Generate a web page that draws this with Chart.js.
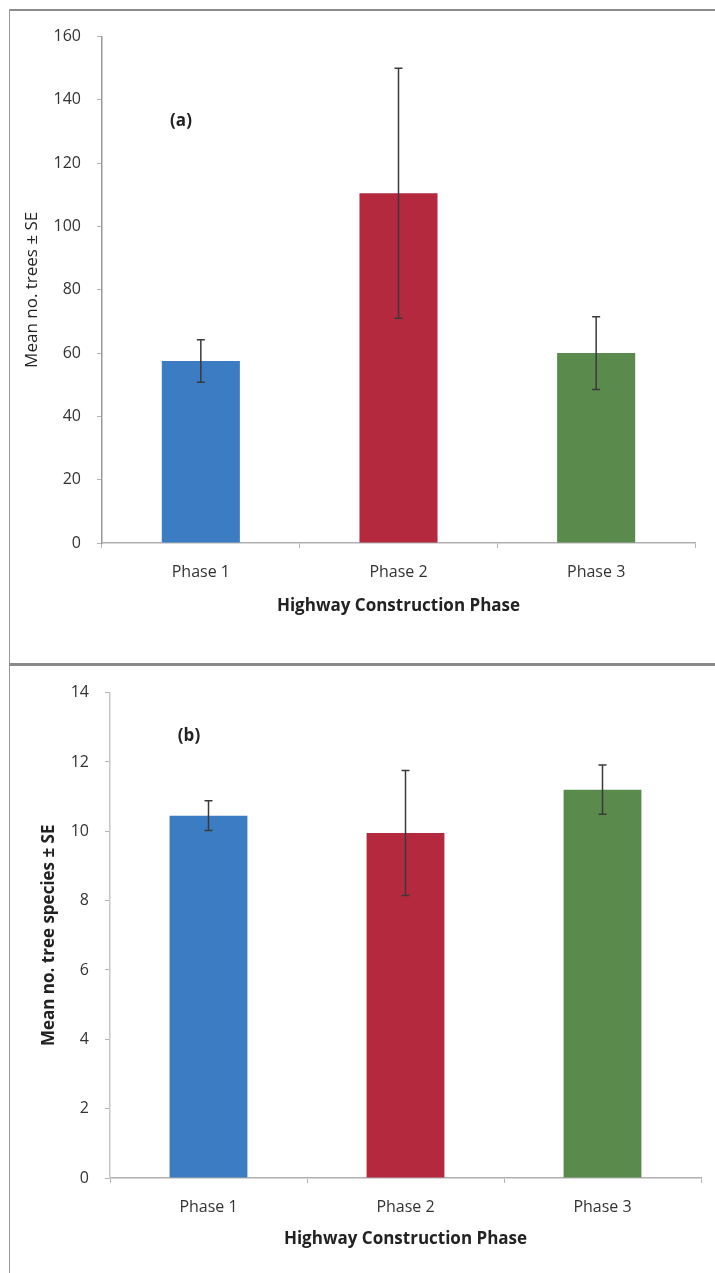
<!DOCTYPE html>
<html lang="en">
<head>
    <meta charset="UTF-8">
    <title>Trees by Highway Construction Phase</title>
    <script src="https://cdn.jsdelivr.net/npm/chart.js@4.4.1/dist/chart.umd.min.js"></script>
    <style>
        body {
            margin: 0;
            background: #fff;
            font-family: "Open Sans", sans-serif;
        }
        .page {
            position: relative;
            width: 715px;
            height: 1273px;
            overflow: hidden;
        }
        .frame-top {
            position: absolute;
            left: 9px; top: 9px;
            width: 706px; height: 0;
            border-top: 2px solid #8c8c8c;
        }
        .frame-left {
            position: absolute;
            left: 9px; top: 9px;
            width: 0; height: 1264px;
            border-left: 1px solid #9a9a9a;
        }
        .frame-mid {
            position: absolute;
            left: 9px; top: 663px;
            width: 706px; height: 0;
            border-top: 3px solid #8a8a8a;
        }
        .panel {
            position: absolute;
            left: 10px;
            width: 705px;
        }
        #panelA { top: 11px; height: 652px; }
        #panelB { top: 667px; height: 606px; }
    </style>
</head>
<body>
<div class="page">
    <div class="frame-top"></div>
    <div class="frame-left"></div>
    <div class="frame-mid"></div>
    <div class="panel" id="panelA"><canvas id="chartA"></canvas></div>
    <div class="panel" id="panelB"><canvas id="chartB"></canvas></div>
</div>

<script>
    // categories shared by both panels
    var phases = ['Phase 1', 'Phase 2', 'Phase 3'];
    var barColors = ['#3c7cc2', '#b5293f', '#5a8a4c'];

    // (a) mean number of trees and standard error
    var treesMean = [57.5, 110.5, 60];
    var treesSE = [6.7, 39.5, 11.5];
    var treesTicks = [0, 20, 40, 60, 80, 100, 120, 140, 160];

    // (b) mean number of tree species and standard error
    var speciesMean = [10.45, 9.95, 11.2];
    var speciesSE = [0.43, 1.8, 0.71];
    var speciesTicks = [0, 2, 4, 6, 8, 10, 12, 14];

    // draws the ± SE whiskers using the chart's own scales
    var errorBars = {
        id: 'errorBars',
        afterDatasetsDraw: function(chart, args, opts) {
            var ctx = chart.ctx;
            var yScale = chart.scales.y;
            var meta = chart.getDatasetMeta(0);
            var means = chart.data.datasets[0].data;
            ctx.save();
            ctx.strokeStyle = opts.color || '#444';
            ctx.lineWidth = 1.5;
            meta.data.forEach(function(bar, i) {
                var hi = yScale.getPixelForValue(means[i] + opts.se[i]);
                var lo = yScale.getPixelForValue(means[i] - opts.se[i]);
                ctx.beginPath();
                ctx.moveTo(bar.x, hi);
                ctx.lineTo(bar.x, lo);
                ctx.moveTo(bar.x - 4, hi);
                ctx.lineTo(bar.x + 4, hi);
                ctx.moveTo(bar.x - 4, lo);
                ctx.lineTo(bar.x + 4, lo);
                ctx.stroke();
            });
            ctx.restore();
        }
    };

    // "(a)" / "(b)" panel letters, placed from the chart area
    var panelLetter = {
        id: 'panelLetter',
        afterDraw: function(chart, args, opts) {
            var ctx = chart.ctx;
            ctx.save();
            ctx.font = 'bold 17px "Open Sans"';
            ctx.fillStyle = '#222';
            ctx.textAlign = 'center';
            ctx.textBaseline = 'middle';
            ctx.fillText(opts.text, chart.chartArea.left + opts.dx, chart.chartArea.top + opts.dy);
            ctx.restore();
        }
    };

    function makeChart(id, means, se, ticks, cfg) {
        return new Chart(document.getElementById(id), {
            type: 'bar',
            data: {
                labels: phases,
                datasets: [{
                    data: means,
                    backgroundColor: barColors,
                    borderWidth: 0,
                    categoryPercentage: 1,
                    barPercentage: 0.395
                }]
            },
            options: {
                responsive: true,
                maintainAspectRatio: false,
                animation: false,
                layout: { padding: { top: cfg.padTop, right: cfg.padRight, left: 0, bottom: 0 } },
                plugins: {
                    legend: { display: false },
                    tooltip: { enabled: false },
                    errorBars: { se: se, color: '#3a3a3a' },
                    panelLetter: cfg.letter
                },
                scales: {
                    x: {
                        afterFit: function(s) { s.height = cfg.xHeight; },
                        grid: { drawOnChartArea: false, drawTicks: true, tickLength: 5, offset: true, color: '#b5b5b5' },
                        border: { color: '#b0b0b0', width: 1.5 },
                        ticks: { color: '#333', padding: 15, font: { family: 'Open Sans', size: 16 } },
                        title: {
                            display: true,
                            text: 'Highway Construction Phase',
                            color: '#222',
                            font: { family: 'Open Sans', size: 17, weight: 'bold' },
                            padding: { top: 0, bottom: cfg.xTitlePad }
                        }
                    },
                    y: {
                        min: ticks[0],
                        max: ticks[ticks.length - 1],
                        afterFit: function(s) { s.width = cfg.yWidth; },
                        afterBuildTicks: function(s) {
                            s.ticks = ticks.map(function(v) { return { value: v }; });
                        },
                        grid: { drawOnChartArea: false, drawTicks: true, tickLength: 5, color: '#b5b5b5' },
                        border: { color: cfg.yAxisColor, width: 1.5 },
                        ticks: { color: '#333', padding: 16, font: { family: 'Open Sans', size: 16 } },
                        title: {
                            display: true,
                            text: cfg.yTitle,
                            color: '#222',
                            font: { family: 'Open Sans', size: 17, weight: cfg.yTitleWeight },
                            padding: { top: cfg.yTitlePad, bottom: 0 }
                        }
                    }
                }
            },
            plugins: [errorBars, panelLetter]
        });
    }

    makeChart('chartA', treesMean, treesSE, treesTicks, {
        padTop: 18, padRight: 20, xHeight: 120, yWidth: 92,
        xTitlePad: 47, yTitlePad: 12, yAxisColor: '#999',
        yTitle: 'Mean no. trees \u00b1 SE', yTitleWeight: 'normal',
        letter: { text: '(a)', dx: 79, dy: 85 }
    });

    makeChart('chartB', speciesMean, speciesSE, speciesTicks, {
        padTop: 21, padRight: 14, xHeight: 95, yWidth: 100,
        xTitlePad: 24, yTitlePad: 29, yAxisColor: '#c8c8c8',
        yTitle: 'Mean no. tree species \u00b1 SE', yTitleWeight: 'bold',
        letter: { text: '(b)', dx: 79, dy: 44 }
    });
</script>
</body>
</html>
